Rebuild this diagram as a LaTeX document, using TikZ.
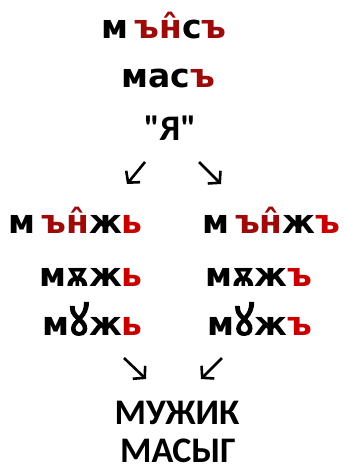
\documentclass[tikz,border=0pt]{standalone}
\usepackage{fontspec}
\usetikzlibrary{arrows.meta}
\newfontfamily\slavfont{DejaVu Sans}
\newfontfamily\ukfont{Noto Sans}[Scale=1.3, FakeBold=2.5]
\newfontfamily\modfont{Carlito}
\definecolor{nasred}{HTML}{9C0A0A}
\definecolor{yerred}{HTML}{C80000}
\newcommand{\nas}[1]{\textcolor{nasred}{#1}}
\newcommand{\yer}[1]{\textcolor{yerred}{#1}}
\newcommand{\uk}{{\ukfont\mdseries ꙋ}}

\begin{document}
\begin{tikzpicture}[
  x=1pt, y=-1pt,
  slav/.style={font=\slavfont\bfseries\fontsize{33}{38}\selectfont, inner sep=0pt},
  modern/.style={font=\modfont\bfseries\fontsize{36}{42}\selectfont, inner sep=0pt},
  arr/.style={-{Straight Barb[length=8pt, width=18pt]}, line width=2.6pt}
]
\useasboundingbox (0,0) rectangle (344,472);

\node[slav, anchor=base] (etym) at (164,38) {м\hspace{6pt}\nas{ън̂}с\nas{ъ}};
\node[slav, anchor=base] (mas) at (168,87) {мас\nas{ъ}};
\node[modern, anchor=base] (ya) at (170,140) {"Я"};

\node[slav, anchor=base east] (softnas) at (143,233) {м\hspace{6pt}\nas{ън̂}ж\yer{ь}};
\node[slav, anchor=base west] (hardnas) at (202,233) {м\hspace{6pt}\nas{ън̂}ж\yer{ъ}};
\node[slav, anchor=base east] (softyus) at (143,286) {мѫж\yer{ь}};
\node[slav, anchor=base west] (hardyus) at (205,286) {мѫж\yer{ъ}};
\node[slav, anchor=base east] (softuk) at (143,335) {м\uk ж\yer{ь}};
\node[slav, anchor=base west] (harduk) at (207,335) {м\uk ж\yer{ъ}};

\node[modern, anchor=base] (muzhik) at (177,424) {МУЖИК};
\node[modern, anchor=base] (masyg) at (178,462) {МАСЫГ};

% arrows
\coordinate (splitL) at (145,162);
\coordinate (splitLe) at (127,184);
\coordinate (splitR) at (199,162);
\coordinate (splitRe) at (221,184);
\coordinate (joinL) at (124,358);
\coordinate (joinLe) at (146,379);
\coordinate (joinR) at (222,358);
\coordinate (joinRe) at (201,379);
\draw[arr] (splitL) -- (splitLe);
\draw[arr] (splitR) -- (splitRe);
\draw[arr] (joinL) -- (joinLe);
\draw[arr] (joinR) -- (joinRe);
\end{tikzpicture}
\end{document}
